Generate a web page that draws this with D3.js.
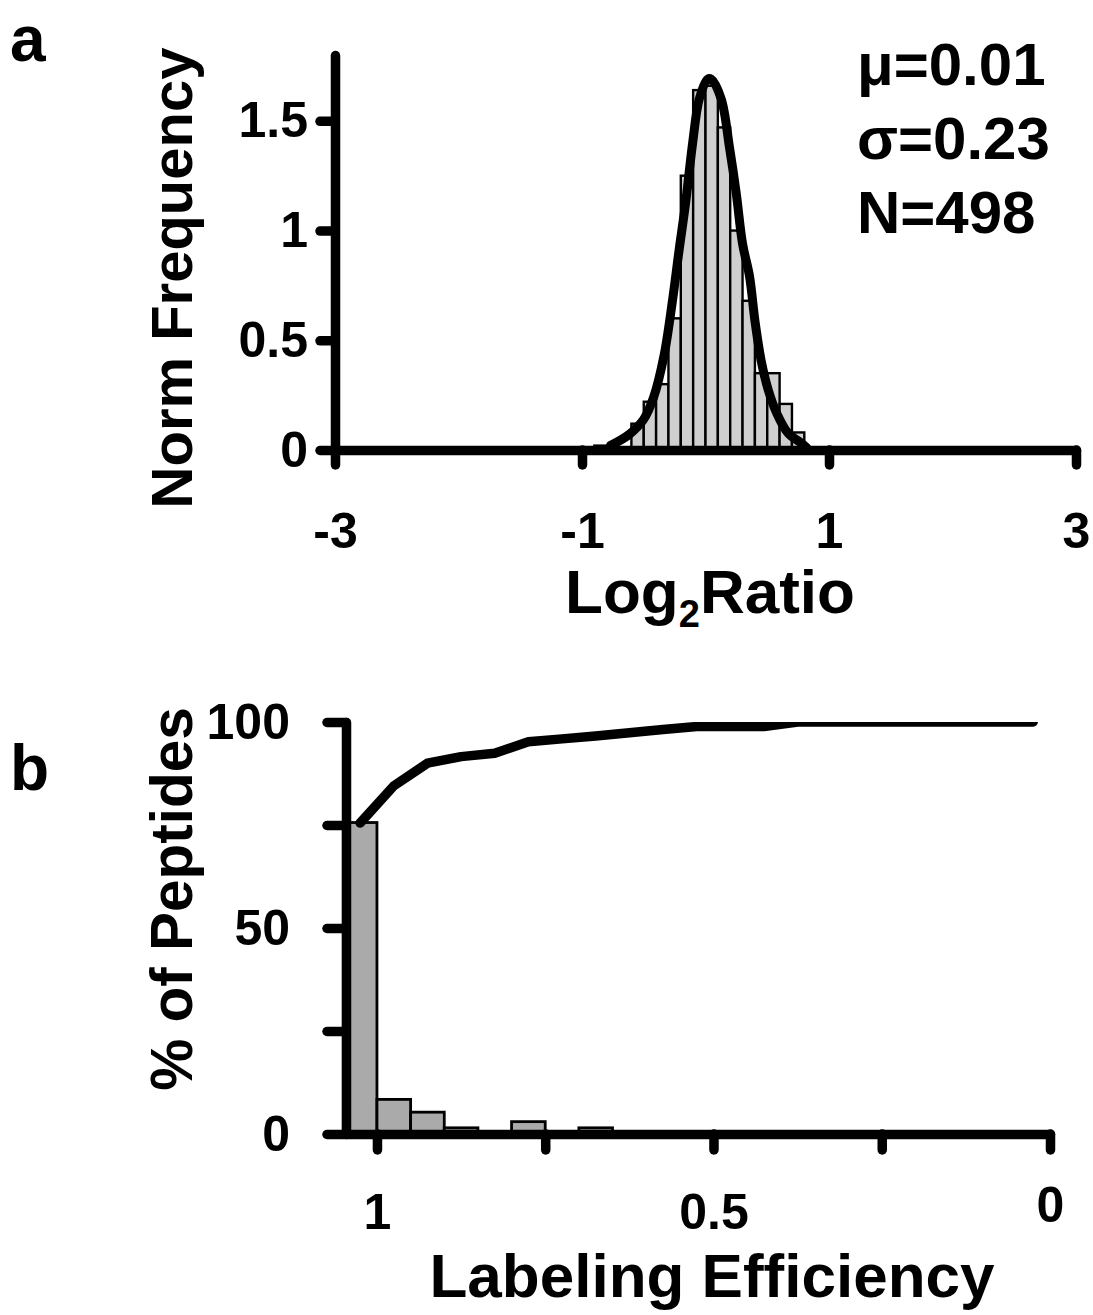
<!DOCTYPE html>
<html>
<head>
<meta charset="utf-8">
<script src="https://cdn.jsdelivr.net/npm/d3@7"></script>
<style>
  body { margin: 0; background: #fff; }
  svg { display: block; }
</style>
</head>
<body>
<script>
// DATA
// panel a : log2 ratio histogram, bins of 0.1 given by their left edge
const ratioBinStarts = [-0.9, -0.8, -0.7, -0.6, -0.5, -0.4, -0.3, -0.2, -0.1, 0, 0.1, 0.2, 0.3, 0.4, 0.5, 0.6, 0.7, 0.8, 0.9];
const ratioFreq = [0.02, 0, 0, 0.12, 0.22, 0.30, 0.60, 1.25, 1.64, 1.66, 1.47, 1.00, 0.68, 0.35, 0.35, 0.21, 0.08, 0.01, 0.01];
// fitted curve, points
const fitX = [-0.77, -0.62, -0.50, -0.42, -0.336, -0.27, -0.214, -0.16, -0.104, -0.05, 0.018, 0.045, 0.127, 0.194, 0.249, 0.30, 0.357, 0.40, 0.453, 0.51, 0.575, 0.67, 0.78, 0.82];
const fitY = [0.02, 0.07, 0.14, 0.24, 0.43, 0.67, 0.91, 1.13, 1.40, 1.60, 1.69, 1.69, 1.60, 1.38, 1.17, 0.94, 0.79, 0.59, 0.40, 0.27, 0.17, 0.076, 0.03, 0.01];
const ratioXTicks = [-3, -1, 1, 3];
const ratioYTicks = [0, 0.5, 1, 1.5];
const statsLines = ["\u03bc=0.01", "\u03c3=0.23", "N=498"];

// panel b : labeling efficiency, bins of 0.05 given by their upper edge
const effBinStarts = [1.05, 1.0, 0.95, 0.9, 0.85, 0.8, 0.75, 0.7];
const effPct = [75.6, 8.4, 5.3, 1.5, 0, 3.0, 0, 1.5];
// cumulative line at bin centres
const cumEff = [1.025, 0.975, 0.925, 0.875, 0.825, 0.775, 0.725, 0.675, 0.625, 0.575, 0.525, 0.475, 0.425, 0.375, 0.325, 0.275, 0.225, 0.175, 0.125, 0.075, 0.025];
const cumPct = [75.5, 84.5, 90, 91.6, 92.4, 95.2, 95.9, 96.6, 97.4, 98.2, 98.9, 98.9, 98.9, 100, 100, 100, 100, 100, 100, 100, 100];
const effXTicks = [1, 0.75, 0.5, 0.25, 0];
const effXLabels = [1, 0.5, 0];
const effYTicks = [0, 25, 50, 75, 100];
const effYLabels = [0, 50, 100];

// SETUP
const FONT = "'Liberation Sans', Arial, Helvetica, sans-serif";
const svg = d3.select("body").append("svg")
    .attr("width", 1093)
    .attr("height", 1315)
    .attr("font-family", FONT)
    .attr("font-weight", "bold");

// thick black axes with round ends, like the original figure
function styleAxis(g) {
  g.attr("font-family", FONT).attr("font-size", 50).attr("font-weight", "bold");
  g.select(".domain").attr("stroke", "#000").attr("stroke-width", 9.5).attr("stroke-linecap", "round");
  g.selectAll(".tick line").attr("stroke", "#000").attr("stroke-width", 9.5).attr("stroke-linecap", "round");
  g.selectAll(".tick text").attr("fill", "#000");
}

// ===== PANEL A =====
const xa = d3.scaleLinear().domain([-3, 3]).range([335, 1076]);
const ya = d3.scaleLinear().domain([0, 1.8]).range([450, 55]);
const binW = 0.1;

const panelA = svg.append("g");

panelA.append("g")
  .selectAll("rect")
  .data(ratioBinStarts.map((s, i) => ({ s, v: ratioFreq[i] })).filter(d => d.v > 0))
  .join("rect")
    .attr("x", d => xa(d.s))
    .attr("y", d => ya(d.v))
    .attr("width", d => xa(d.s + binW) - xa(d.s))
    .attr("height", d => ya(0) - ya(d.v))
    .attr("fill", "#cfcfcf")
    .attr("stroke", "#000")
    .attr("stroke-width", 2.4);

panelA.append("path")
  .datum(fitX.map((x, i) => [x, fitY[i]]))
  .attr("fill", "none")
  .attr("stroke", "#000")
  .attr("stroke-width", 9)
  .attr("stroke-linecap", "round")
  .attr("stroke-linejoin", "round")
  .attr("d", d3.line().x(d => xa(d[0])).y(d => ya(d[1])).curve(d3.curveCatmullRom));

panelA.append("g")
  .attr("transform", `translate(0,${ya(0)})`)
  .call(d3.axisBottom(xa).tickValues(ratioXTicks).tickFormat(d => String(d)).tickSize(15).tickSizeOuter(0).tickPadding(47))
  .call(styleAxis);

panelA.append("g")
  .attr("transform", `translate(${xa(-3)},0)`)
  .call(d3.axisLeft(ya).tickValues(ratioYTicks).tickFormat(d => String(d)).tickSize(15).tickSizeOuter(0).tickPadding(12))
  .call(styleAxis);

// stats
panelA.append("g")
  .selectAll("text")
  .data(statsLines)
  .join("text")
    .attr("x", 857)
    .attr("y", (d, i) => 85 + i * 74)
    .attr("font-size", 60)
    .text(d => d);

// axis titles
const xTitleA = panelA.append("text")
  .attr("x", 710)
  .attr("y", 613)
  .attr("text-anchor", "middle")
  .attr("font-size", 62);
xTitleA.append("tspan").text("Log");
xTitleA.append("tspan").attr("font-size", 38).attr("dy", 14).text("2");
xTitleA.append("tspan").attr("dy", -14).text("Ratio");

panelA.append("text")
  .attr("transform", "translate(192,278) rotate(-90)")
  .attr("text-anchor", "middle")
  .attr("font-size", 58)
  .text("Norm Frequency");

panelA.append("text")
  .attr("x", 10)
  .attr("y", 61)
  .attr("font-size", 64)
  .text("a");

// ===== PANEL B =====
const xb = d3.scaleLinear().domain([1.046, 0]).range([346, 1050]);
const yb = d3.scaleLinear().domain([0, 100]).range([1134, 722]);
const effW = 0.05;

const panelB = svg.append("g");

panelB.append("clipPath")
  .attr("id", "clipB")
  .append("rect")
    .attr("x", xb.range()[0])
    .attr("y", yb(100))
    .attr("width", xb.range()[1] - xb.range()[0])
    .attr("height", yb(0) - yb(100));

panelB.append("g")
  .selectAll("rect")
  .data(effBinStarts.map((s, i) => ({ s, v: effPct[i] })).filter(d => d.v > 0))
  .join("rect")
    .attr("x", d => xb(d.s))
    .attr("y", d => yb(d.v))
    .attr("width", d => xb(d.s - effW) - xb(d.s))
    .attr("height", d => yb(0) - yb(d.v))
    .attr("fill", "#aaaaaa")
    .attr("stroke", "#000")
    .attr("stroke-width", 2.8);

panelB.append("path")
  .datum(cumEff.map((x, i) => [x, cumPct[i]]))
  .attr("clip-path", "url(#clipB)")
  .attr("fill", "none")
  .attr("stroke", "#000")
  .attr("stroke-width", 9.5)
  .attr("stroke-linecap", "round")
  .attr("stroke-linejoin", "round")
  .attr("d", d3.line().x(d => xb(d[0])).y(d => yb(d[1])));

const xAxisB = panelB.append("g")
  .attr("transform", `translate(0,${yb(0)})`)
  .call(d3.axisBottom(xb).tickValues(effXTicks)
    .tickFormat(d => effXLabels.includes(d) ? String(d) : "")
    .tickSize(16).tickSizeOuter(0).tickPadding(43))
  .call(styleAxis);
// the "0" label sits a little higher in the original
xAxisB.selectAll(".tick text").filter(d => d === 0).attr("y", 52);

panelB.append("g")
  .attr("transform", `translate(${xb.range()[0]},0)`)
  .call(d3.axisLeft(yb).tickValues(effYTicks)
    .tickFormat(d => effYLabels.includes(d) ? String(d) : "")
    .tickSize(19).tickSizeOuter(0).tickPadding(37))
  .call(styleAxis);

panelB.append("text")
  .attr("x", 712)
  .attr("y", 1297)
  .attr("text-anchor", "middle")
  .attr("font-size", 62)
  .text("Labeling Efficiency");

panelB.append("text")
  .attr("transform", "translate(192,899) rotate(-90)")
  .attr("text-anchor", "middle")
  .attr("font-size", 58.5)
  .text("% of Peptides");

panelB.append("text")
  .attr("x", 10)
  .attr("y", 790)
  .attr("font-size", 64)
  .text("b");
</script>
</body>
</html>
